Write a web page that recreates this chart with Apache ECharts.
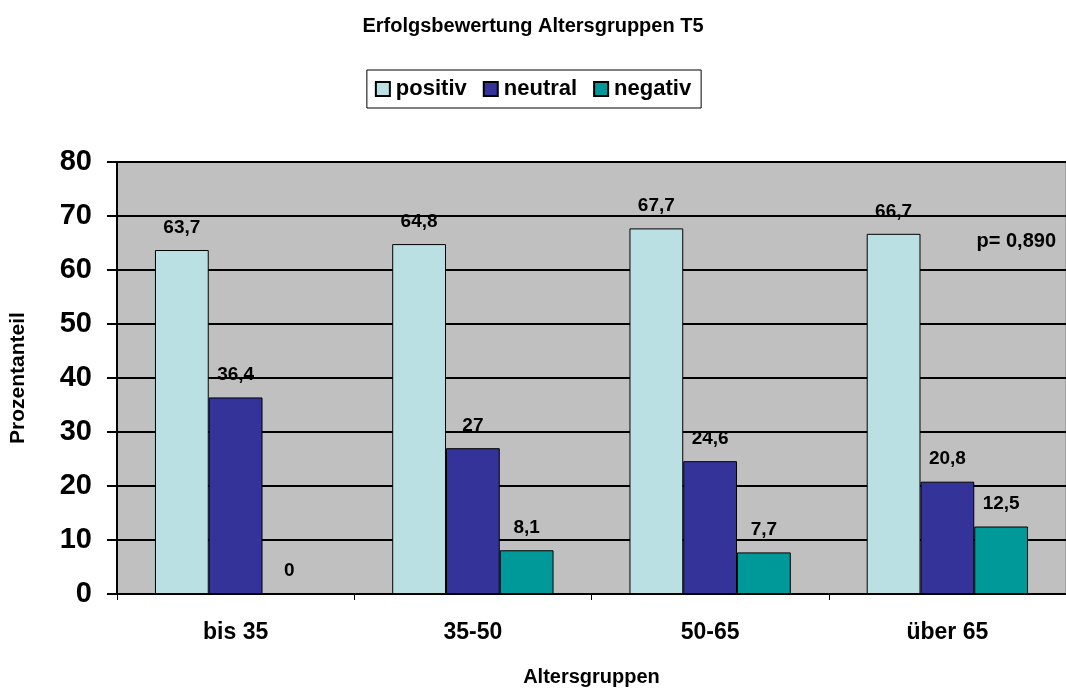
<!DOCTYPE html>
<html>
<head>
<meta charset="utf-8">
<script src="https://cdn.jsdelivr.net/npm/echarts@6/dist/echarts.min.js"></script>
<style>
  html, body { margin: 0; padding: 0; background: #fff; }
  #chart { width: 1066px; height: 692px; }
</style>
</head>
<body>
<div id="chart"></div>
<script>
const categories = ['bis 35', '35-50', '50-65', 'über 65'];
const positiv = [63.7, 64.8, 67.7, 66.7];
const neutral = [36.4, 27, 24.6, 20.8];
const negativ = [0, 8.1, 7.7, 12.5];
const yTicks = [0, 10, 20, 30, 40, 50, 60, 70, 80];

const font = 'Liberation Sans, Arial, sans-serif';

let myChart = echarts.init(document.getElementById('chart'));

function labelFmt(p) {
  return String(p.value).replace('.', ',');
}

function makeSeries(name, data, color) {
  return {
    name: name,
    type: 'bar',
    data: data,
    barGap: '0%',
    barCategoryGap: '32%',
    itemStyle: { color: color, borderColor: '#000', borderWidth: 1 },
    label: {
      show: true,
      position: 'top',
      distance: 13,
      formatter: labelFmt,
      fontFamily: font,
      fontWeight: 'bold',
      fontSize: 19,
      color: '#000'
    }
  };
}

let option = {
  animation: false,
  textStyle: { fontFamily: font },
  title: {
    text: 'Erfolgsbewertung Altersgruppen T5',
    left: 'center',
    top: 11,
    textStyle: { fontFamily: font, fontWeight: 'bold', fontSize: 20, color: '#000' }
  },
  legend: {
    top: 70,
    left: 'center',
    icon: 'rect',
    itemWidth: 14,
    itemHeight: 14,
    itemGap: 16,
    padding: [8, 10, 8, 8],
    borderColor: '#000',
    borderWidth: 1,
    textStyle: { fontFamily: font, fontWeight: 'bold', fontSize: 22, color: '#000', padding: [0, 0, 0, 1] },
    data: ['positiv', 'neutral', 'negativ']
  },
  graphic: [{
    type: 'text',
    right: 10,
    top: 231,
    style: { text: 'p= 0,890', font: 'bold 20px ' + font, fill: '#000' }
  }],
  grid: {
    left: 113,
    right: 0,
    top: 162,
    bottom: 93,
    show: true,
    backgroundColor: '#C0C0C0',
    borderColor: '#808080',
    borderWidth: 1
  },
  xAxis: {
    type: 'category',
    data: categories,
    name: 'Altersgruppen',
    nameLocation: 'middle',
    nameGap: 73,
    nameTextStyle: { fontFamily: font, fontWeight: 'bold', fontSize: 20, color: '#000' },
    axisLine: { lineStyle: { color: '#000', width: 2 } },
    axisTick: { show: true, length: 6, lineStyle: { color: '#000' } },
    axisLabel: { fontFamily: font, fontWeight: 'bold', fontSize: 23, color: '#000', margin: 27 }
  },
  yAxis: {
    type: 'value',
    min: yTicks[0],
    max: yTicks[yTicks.length - 1],
    interval: 10,
    name: 'Prozentanteil',
    nameLocation: 'middle',
    nameGap: 88,
    nameRotate: 90,
    nameTextStyle: { fontFamily: font, fontWeight: 'bold', fontSize: 21, color: '#000' },
    axisLine: { show: true, lineStyle: { color: '#000', width: 2 } },
    axisTick: { show: true, length: 10, lineStyle: { color: '#000', width: 2 } },
    axisLabel: { fontFamily: font, fontWeight: 'bold', fontSize: 29, color: '#000', margin: 25 },
    splitLine: { show: true, lineStyle: { color: '#000', width: 2 } }
  },
  series: [
    makeSeries('positiv', positiv, '#BBE0E3'),
    makeSeries('neutral', neutral, '#333399'),
    makeSeries('negativ', negativ, '#009999')
  ]
};

option && myChart.setOption(option);
</script>
</body>
</html>
